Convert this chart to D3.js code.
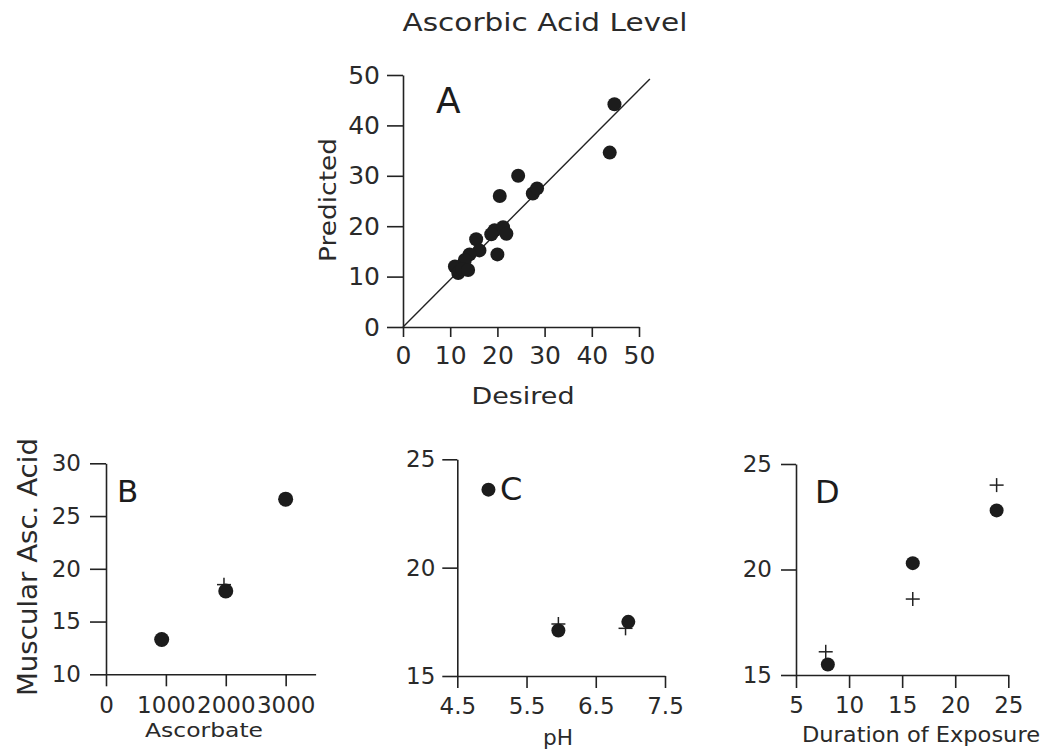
<!DOCTYPE html>
<html>
  <head>
    <title>Ascorbic Acid Level</title>
    <meta http-equiv="Content-Type" content="text/html; charset=utf-8">
    <style type="text/css">
      body { margin: 0; background: #fff; }
      svg { font-family: "DejaVu Sans", sans-serif; fill: #222; }
      .axis path, .axis line {
        fill: none;
        stroke: #222;
        stroke-width: 1.6;
      }
      .axis text { fill: #2a2a2a; font-family: "DejaVu Sans", sans-serif; }
      .fit { stroke: #222; stroke-width: 1.4; fill: none; }
      .dot { fill: #1c1c1c; }
      .plus { stroke: #222; stroke-width: 1.5; }
    </style>
  </head>
  <body>
    <div id="main"></div>
    <script src="https://d3js.org/d3.v7.min.js"></script>
    <script>
    // ---- data ----
    var title = "Ascorbic Acid Level";

    // panel A: predicted vs desired
    var desiredA   = [44.8, 43.8, 24.4, 20.5, 27.5, 28.4, 19.4, 21.2, 21.9, 18.7, 20.0, 15.5, 16.2, 14.1, 13.1, 11.0, 11.7, 12.5, 13.8];
    var predictedA = [44.2, 34.6, 30.0, 26.0, 26.5, 27.5, 19.2, 19.8, 18.5, 18.4, 14.4, 17.4, 15.2, 14.4, 13.3, 12.0, 10.7, 11.5, 11.3];
    var fitDesired   = [0, 52.3];
    var fitPredicted = [0, 49.2];
    var ticksA = [0, 10, 20, 30, 40, 50];

    // panel B: ascorbate
    var ascorbateDots = [930, 2000, 3000];
    var muscleDotsB   = [13.3, 17.9, 26.6];
    var ascorbatePlus = [930, 1970, 3000];
    var musclePlusB   = [13.3, 18.5, 26.6];
    var ticksBx = [0, 1000, 2000, 3000];
    var ticksBy = [10, 15, 20, 25, 30];

    // panel C: pH
    var phDots   = [4.95, 5.96, 6.97];
    var muscleDotsC = [23.6, 17.1, 17.5];
    var phPlus   = [5.96, 6.93];
    var musclePlusC = [17.4, 17.2];
    var ticksCx = [4.5, 5.5, 6.5, 7.5];
    var ticksCy = [15, 20, 25];

    // panel D: duration of exposure
    var durationDots = [8.0, 16.0, 23.9];
    var muscleDotsD  = [15.5, 20.3, 22.8];
    var durationPlus = [7.8, 16.0, 23.9];
    var musclePlusD  = [16.1, 18.6, 24.0];
    var ticksDx = [5, 10, 15, 20, 25];
    var ticksDy = [15, 20, 25];

    var svg = d3.select("#main").append("svg")
      .attr("width", 1045)
      .attr("height", 753);

    // draw one panel's axes
    function drawAxes(x, y, opt) {
      svg.append("g")
        .attr("class", "axis")
        .attr("transform", "translate(0," + y.range()[0] + ")")
        .call(d3.axisBottom(x).tickValues(opt.xticks).tickSize(opt.xtick)
          .tickSizeOuter(0).tickPadding(opt.xpad).tickFormat(d3.format("")))
        .call(function(g) { g.selectAll("text").style("font-size", opt.font + "px"); });

      svg.append("g")
        .attr("class", "axis")
        .attr("transform", "translate(" + x.range()[0] + ",0)")
        .call(d3.axisLeft(y).tickValues(opt.yticks).tickSize(opt.ytick)
          .tickSizeOuter(0).tickPadding(opt.ypad).tickFormat(d3.format("")))
        .call(function(g) { g.selectAll("text").style("font-size", opt.font + "px"); });
    }

    function drawDots(x, y, xs, ys, r) {
      svg.append("g").selectAll("circle")
        .data(xs)
        .join("circle")
          .attr("class", "dot")
          .attr("cx", function(d) { return x(d); })
          .attr("cy", function(d, i) { return y(ys[i]); })
          .attr("r", r);
    }

    function drawPlus(x, y, xs, ys) {
      var s = 7;
      var g = svg.append("g").selectAll("g")
        .data(xs)
        .join("g")
          .attr("transform", function(d, i) { return "translate(" + x(d) + "," + y(ys[i]) + ")"; });
      g.append("line").attr("class", "plus").attr("x1", -s).attr("x2", s);
      g.append("line").attr("class", "plus").attr("y1", -s).attr("y2", s);
    }

    function label(txt, cx, cy, size, len, rotate) {
      var t = svg.append("text")
        .attr("text-anchor", "middle")
        .style("font-size", size + "px")
        .attr("fill", "#2a2a2a")
        .text(txt);
      if (rotate) {
        t.attr("transform", "translate(" + cx + "," + cy + ") rotate(-90)");
      } else {
        t.attr("x", cx).attr("y", cy);
      }
      if (len) t.attr("textLength", len).attr("lengthAdjust", "spacingAndGlyphs");
      return t;
    }

    function letter(txt, x0, y0, size) {
      svg.append("text")
        .attr("x", x0).attr("y", y0)
        .style("font-size", size + "px")
        .attr("fill", "#1c1c1c")
        .text(txt);
    }

    // Title
    label(title, 545, 31, 25, 285);

    // ---- Panel A ----
    var xA = d3.scaleLinear().domain([0, 50]).range([403, 639]);
    var yA = d3.scaleLinear().domain([0, 50]).range([327, 75]);
    drawAxes(xA, yA, {xticks: ticksA, yticks: ticksA, xtick: 10, ytick: 16, xpad: 9, ypad: 7, font: 25});
    svg.append("path")
      .attr("class", "fit")
      .attr("d", d3.line()
        .x(function(d) { return xA(d); })
        .y(function(d, i) { return yA(fitPredicted[i]); })(fitDesired));
    drawDots(xA, yA, desiredA, predictedA, 7);
    letter("A", 436, 113, 36);
    label("Desired", 523, 404, 23, 103);
    label("Predicted", 336, 200, 23, 124, true);

    // ---- Panel B ----
    var xB = d3.scaleLinear().domain([0, 3500]).range([106, 315.6]);
    var yB = d3.scaleLinear().domain([10, 30]).range([674.3, 463.3]);
    drawAxes(xB, yB, {xticks: ticksBx, yticks: ticksBy, xtick: 12, ytick: 16, xpad: 10, ypad: 9, font: 23});
    drawPlus(xB, yB, ascorbatePlus, musclePlusB);
    drawDots(xB, yB, ascorbateDots, muscleDotsB, 7.5);
    letter("B", 117, 502, 31);
    label("Ascorbate", 204, 737, 20, 118);
    label("Muscular Asc. Acid", 37, 567, 27, 258, true);

    // ---- Panel C ----
    var xC = d3.scaleLinear().domain([4.5, 7.5]).range([457.3, 665]);
    var yC = d3.scaleLinear().domain([15, 25]).range([676, 459.3]);
    drawAxes(xC, yC, {xticks: ticksCx, yticks: ticksCy, xtick: 12, ytick: 15, xpad: 10, ypad: 7, font: 23});
    drawPlus(xC, yC, phPlus, musclePlusC);
    drawDots(xC, yC, phDots, muscleDotsC, 7);
    letter("C", 500, 500, 32);
    label("pH", 558, 745, 21, 30);

    // ---- Panel D ----
    var xD = d3.scaleLinear().domain([5, 25]).range([796, 1008.3]);
    var yD = d3.scaleLinear().domain([15, 25]).range([675, 464]);
    drawAxes(xD, yD, {xticks: ticksDx, yticks: ticksDy, xtick: 13, ytick: 15, xpad: 9, ypad: 9, font: 23});
    drawPlus(xD, yD, durationPlus, musclePlusD);
    drawDots(xD, yD, durationDots, muscleDotsD, 7);
    letter("D", 815, 503, 32);
    label("Duration of Exposure", 921, 742, 21, 238);
    </script>
  </body>
</html>
